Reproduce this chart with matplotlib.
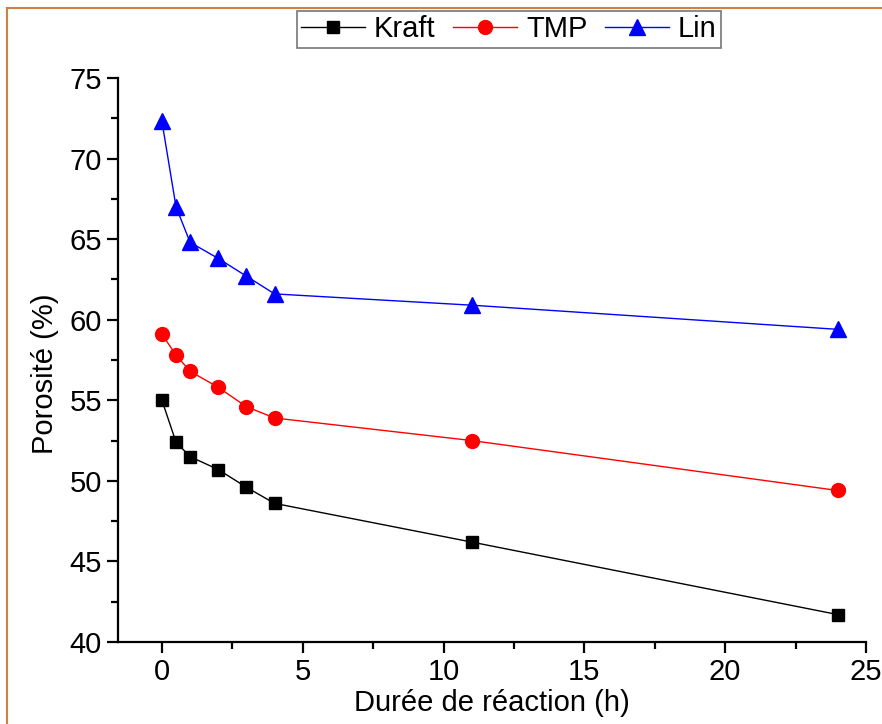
import matplotlib.pyplot as plt
from matplotlib.lines import Line2D
from matplotlib.ticker import MultipleLocator

plt.rcParams['font.family'] = ['Liberation Sans', 'DejaVu Sans']

hours = [0, 0.5, 1, 2, 3, 4, 11, 24]
kraft = [55.0, 52.4, 51.5, 50.7, 49.6, 48.6, 46.2, 41.7]
tmp = [59.1, 57.8, 56.8, 55.8, 54.6, 53.9, 52.5, 49.4]
lin = [72.3, 67.0, 64.8, 63.8, 62.7, 61.6, 60.9, 59.4]

fig = plt.figure(figsize=(8.82, 7.24), dpi=100)
ax = fig.add_axes([0.1338, 0.1133, 0.848, 0.779])

ax.plot(hours, kraft, color="black", marker="s", markersize=9, lw=1, label="Kraft")
ax.plot(hours, tmp, color="red", marker="o", markersize=10, lw=1, label="TMP")
ax.plot(hours, lin, color="blue", marker="^", markersize=12, lw=1, label="Lin")

ax.set_xlim(-1.56, 25)
ax.set_ylim(40, 75)
ax.xaxis.set_major_locator(MultipleLocator(5))
ax.xaxis.set_minor_locator(MultipleLocator(2.5))
ax.yaxis.set_major_locator(MultipleLocator(5))
ax.yaxis.set_minor_locator(MultipleLocator(2.5))

for s in ["top", "right"]:
    ax.spines[s].set_visible(False)
for s in ["left", "bottom"]:
    ax.spines[s].set_linewidth(1.6)

ax.tick_params(which="major", direction="out", length=8, width=1.6, labelsize=21)
ax.tick_params(which="minor", direction="out", length=5, width=1.6)

ax.set_xlabel("Durée de réaction (h)", fontsize=21, labelpad=2)
ax.set_ylabel("Porosité (%)", fontsize=21)
ax.yaxis.set_label_coords(-0.079, 0.475)

leg = fig.legend(loc="upper center", bbox_to_anchor=(0.577, 0.985), ncol=3,
                 fontsize=21, frameon=True, fancybox=False, handlelength=2.2,
                 handletextpad=0.3, columnspacing=0.6, borderpad=0.15,
                 borderaxespad=0)
leg.get_frame().set_edgecolor("#555555")
leg.get_frame().set_linewidth(1.2)

# orange page border
fig.add_artist(Line2D([7 / 882, 7 / 882], [0, 1 - 8 / 724], color="#d08040", lw=1.5))
fig.add_artist(Line2D([7 / 882, 1], [1 - 8 / 724, 1 - 8 / 724], color="#d08040", lw=1.5))

fig.savefig("out.png", dpi=100)
